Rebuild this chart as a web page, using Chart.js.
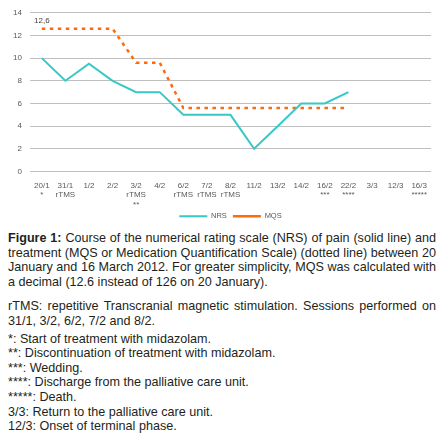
<!DOCTYPE html>
<html>
<head>
<meta charset="utf-8">
<script src="https://cdn.jsdelivr.net/npm/chart.js@4.4.0/dist/chart.umd.min.js"></script>
<style>
  body { margin: 0; background: #fff; width: 439px; height: 443px; overflow: hidden; }
  #wrap { position: absolute; left: 0; top: 0; width: 439px; height: 230px; }
  #caption {
    position: absolute; left: 8px; top: 231px; width: 428px;
    font-family: "Liberation Sans", Arial, sans-serif; font-size: 12.6px;
    line-height: 14.6px; color: #231f20;
  }
  #caption p { margin: 0; text-align: justify; }
  #caption p.gap { margin-top: 10px; }
  #caption p.list { margin-top: 3px; text-align: left; }
</style>
</head>
<body>
<div id="wrap"><canvas id="pain-chart"></canvas></div>
<div id="caption">
  <p><b>Figure 1:</b> Course of the numerical rating scale (NRS) of pain (solid line) and treatment (MQS or Medication Quantification Scale) (dotted line) between 20 January and 16 March 2012. For greater simplicity, MQS was calculated with a decimal (12.6 instead of 126 on 20 January).</p>
  <p class="gap">rTMS: repetitive Transcranial magnetic stimulation. Sessions performed on 31/1, 3/2, 6/2, 7/2 and 8/2.</p>
  <p class="list">*: Start of treatment with midazolam.<br>
  **: Discontinuation of treatment with midazolam.<br>
  ***: Wedding.<br>
  ****: Discharge from the palliative care unit.<br>
  *****: Death.<br>
  3/3: Return to the palliative care unit.<br>
  12/3: Onset of terminal phase.</p>
</div>
<script>
const dates = ['20/1', '31/1', '1/2', '2/2', '3/2', '4/2', '6/2', '7/2', '8/2', '11/2', '13/2', '14/2', '16/2', '22/2', '3/3', '12/3', '16/3'];
const notes = ['*', 'rTMS', '', '', 'rTMS\n**', '', 'rTMS', 'rTMS', 'rTMS', '', '', '', '***', '****', '', '', '*****'];
const nrs = [10, 8, 9.5, 8, 7, 7, 5, 5, 5, 2, 4, 6, 6, 7, null, null, null];
const mqs = [12.6, 12.6, 12.6, 12.6, 9.6, 9.6, 5.6, 5.6, 5.6, 5.6, 5.6, 5.6, 5.6, 5.6, null, null, null];
const yTicks = [0, 2, 4, 6, 8, 10, 12, 14];

const $$ = el => document.getElementById(el);

const labels = dates.map((d, i) => [d].concat(notes[i] ? notes[i].split('\n') : []));
const tickFont = '"Liberation Sans", Arial, sans-serif';

// small label over the first MQS point
const firstValueLabel = {
    id: 'firstValueLabel',
    afterDatasetsDraw(chart) {
        const pt = chart.getDatasetMeta(1).data[0];
        const ctx = chart.ctx;
        ctx.save();
        ctx.font = '8px ' + tickFont;
        ctx.fillStyle = '#404040';
        ctx.textAlign = 'center';
        ctx.textBaseline = 'middle';
        ctx.fillText(String(mqs[0]).replace('.', ','), pt.x, pt.y - 8);
        ctx.restore();
    }
};

const config = {
    type: 'line',
    data: {
        labels: labels,
        datasets: [{
            label: 'NRS',
            data: nrs,
            borderColor: '#37c8c8',
            backgroundColor: '#37c8c8',
            borderWidth: 2,
            pointRadius: 0,
            tension: 0
        },
        {
            label: 'MQS',
            data: mqs,
            borderColor: '#ff6a0a',
            backgroundColor: '#ff6a0a',
            borderWidth: 2.5,
            borderDash: [3.5, 4.5],
            pointRadius: 0,
            tension: 0
        }]
    },
    options: {
        responsive: true,
        maintainAspectRatio: false,
        animation: false,
        layout: { padding: { top: 12, right: 8, left: 0, bottom: 0 } },
        plugins: {
            legend: {
                position: 'bottom',
                fullSize: false,
                labels: {
                    usePointStyle: true,
                    pointStyle: 'line',
                    pointStyleWidth: 28,
                    padding: 6,
                    color: '#595959',
                    font: { size: 7.5, family: tickFont }
                }
            },
            tooltip: { enabled: false }
        },
        scales: {
            x: {
                offset: true,
                grid: { display: false, drawTicks: false },
                border: { display: false },
                ticks: {
                    autoSkip: false,
                    maxRotation: 0,
                    padding: 9,
                    color: '#595959',
                    font: { size: 8, family: tickFont, lineHeight: 1.22 }
                },
                afterFit: scale => { scale.height = 35; }
            },
            y: {
                min: 0,
                max: 14,
                afterBuildTicks: scale => { scale.ticks = yTicks.map(v => ({ value: v })); },
                grid: { color: '#bfbfbf', drawTicks: false },
                border: { display: false },
                ticks: {
                    padding: 8,
                    color: '#595959',
                    font: { size: 8, family: tickFont }
                },
                afterFit: scale => { scale.width = 30; }
            }
        }
    },
    plugins: [firstValueLabel]
};

new Chart($$('pain-chart'), config);
</script>
</body>
</html>
